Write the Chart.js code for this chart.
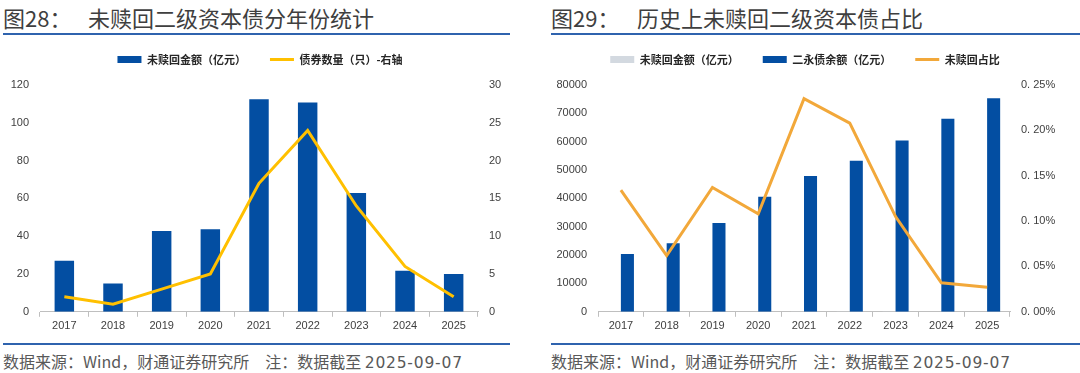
<!DOCTYPE html>
<html>
<head>
<meta charset="utf-8">
<script src="https://cdn.jsdelivr.net/npm/chart.js@4"></script>
<style>
  body { margin: 0; width: 1080px; height: 373px; background: #fff; position: relative; overflow: hidden; font-family: "Noto Sans CJK SC", sans-serif; }
  .title { position: absolute; top: 3px; font-size: 22px; line-height: 28px; color: #3f3f3f; white-space: nowrap; }
  .rule { position: absolute; height: 2px; background: #2f63ae; }
  .source { position: absolute; top: 350px; font-size: 16px; line-height: 22px; color: #595959; white-space: nowrap; }
  .source .date { font-family: "DejaVu Sans", sans-serif; font-size: 15.5px; letter-spacing: 0.8px; }
  .box { position: absolute; }
</style>
</head>
<body>
<div class="title" style="left:3px">图28：</div>
<div class="title" style="left:88px">未赎回二级资本债分年份统计</div>
<div class="title" style="left:551px">图29：</div>
<div class="title" style="left:637px">历史上未赎回二级资本债占比</div>
<div class="rule" style="left:3px; width:507px; top:33px"></div>
<div class="rule" style="left:551px; width:529px; top:33px"></div>
<div class="box" style="left:0; top:30px; width:520px; height:310px"><canvas id="leftChart"></canvas></div>
<div class="box" style="left:550px; top:30px; width:510px; height:310px"><canvas id="rightChart"></canvas></div>
<div class="rule" style="left:3px; width:507px; top:343px"></div>
<div class="rule" style="left:551px; width:529px; top:343px"></div>
<div class="source" style="left:3px">数据来源：Wind，财通证券研究所　注：数据截至 <span class="date">2025-09-07</span></div>
<div class="source" style="left:551px">数据来源：Wind，财通证券研究所　注：数据截至 <span class="date">2025-09-07</span></div>

<script>
// data
const years = ["2017", "2018", "2019", "2020", "2021", "2022", "2023", "2024", "2025"];
const unredeemedAmount = [27, 15, 42.7, 43.7, 112.5, 110.8, 62.8, 21.7, 20]; // 亿元
const bondCount = [2, 1, 3, 5, 17, 24, 14, 6, 2]; // 只
const perpetualBalance = [20400, 24200, 31300, 40600, 47900, 53300, 60400, 68100, 75300]; // 亿元
const unredeemedRatio = [0.134, 0.062, 0.137, 0.108, 0.235, 0.208, 0.105, 0.032, 0.027]; // %

const leftTicks = { min: 0, max: 120, step: 20 };
const leftRightTicks = { min: 0, max: 30, step: 5 };
const rightTicks = { min: 0, max: 80000, step: 10000 };
const rightRightTicks = { min: 0, max: 0.25, step: 0.05 };

const BLUE = "#034ea2";
const YELLOW = "#ffc000";
const ORANGE = "#f2a83a";
const GREY = "#d3d9e0";

Chart.defaults.font.family = "'Liberation Sans', Arial, sans-serif";
Chart.defaults.font.size = 11;
Chart.defaults.color = "#404040";
Chart.defaults.animation = false;

// a bit more room between the legend and the plot
const legendGap = {
  id: "legendGap",
  afterInit(chart) {
    const lg = chart.legend;
    const fit = lg.fit;
    lg.fit = function () {
      fit.apply(this, arguments);
      this.height += 10;
    };
  },
};

const legendOpts = {
  position: "top",
  labels: {
    usePointStyle: true,
    pointStyleWidth: 24,
    boxHeight: 7,
    padding: 24,
    color: "#262626",
    font: { family: "'Noto Sans CJK SC', sans-serif", size: 11, weight: "bold" },
    sort: (a, b) => a.datasetIndex - b.datasetIndex,
  },
};

const xAxis = {
  grid: { display: true, drawOnChartArea: false, drawTicks: true, tickLength: 5, color: "#bfbfbf", offset: true },
  border: { display: true, color: "#bfbfbf" },
  ticks: { padding: 3 },
};

const fixWidth = (w) => (scale) => { scale.width = w; };

// left chart
new Chart(document.getElementById("leftChart"), {
  plugins: [legendGap],
  data: {
    labels: years,
    datasets: [
      {
        type: "bar",
        label: "未赎回金额（亿元）",
        data: unredeemedAmount,
        yAxisID: "y",
        backgroundColor: BLUE,
        pointStyle: "rect",
        categoryPercentage: 0.4,
        barPercentage: 1,
        order: 1,
      },
      {
        type: "line",
        label: "债券数量（只）-右轴",
        data: bondCount,
        yAxisID: "y1",
        borderColor: YELLOW,
        backgroundColor: YELLOW,
        borderWidth: 3,
        pointRadius: 0,
        pointStyle: "line",
        tension: 0,
        order: 0,
      },
    ],
  },
  options: {
    responsive: true,
    maintainAspectRatio: false,
    layout: { padding: { top: 0, bottom: 4 } },
    plugins: {
      legend: legendOpts,
      tooltip: { enabled: false },
    },
    scales: {
      x: xAxis,
      y: {
        position: "left",
        min: leftTicks.min, max: leftTicks.max,
        ticks: { stepSize: leftTicks.step },
        grid: { display: false },
        border: { display: false },
        afterFit: fixWidth(40),
      },
      y1: {
        position: "right",
        min: leftRightTicks.min, max: leftRightTicks.max,
        ticks: { stepSize: leftRightTicks.step },
        grid: { display: false },
        border: { display: false },
        afterFit: fixWidth(42),
      },
    },
  },
});

// right chart
new Chart(document.getElementById("rightChart"), {
  plugins: [legendGap],
  data: {
    labels: years,
    datasets: [
      {
        type: "bar",
        label: "未赎回金额（亿元）",
        data: unredeemedAmount,
        yAxisID: "y",
        backgroundColor: GREY,
        pointStyle: "rect",
        categoryPercentage: 0.57,
        barPercentage: 1,
        order: 1,
      },
      {
        type: "bar",
        label: "二永债余额（亿元）",
        data: perpetualBalance,
        yAxisID: "y",
        backgroundColor: BLUE,
        pointStyle: "rect",
        categoryPercentage: 0.57,
        barPercentage: 1,
        order: 1,
      },
      {
        type: "line",
        label: "未赎回占比",
        data: unredeemedRatio,
        yAxisID: "y1",
        borderColor: ORANGE,
        backgroundColor: ORANGE,
        borderWidth: 3,
        pointRadius: 0,
        pointStyle: "line",
        tension: 0,
        order: 0,
      },
    ],
  },
  options: {
    responsive: true,
    maintainAspectRatio: false,
    layout: { padding: { top: 0, bottom: 4 } },
    plugins: {
      legend: legendOpts,
      tooltip: { enabled: false },
    },
    scales: {
      x: xAxis,
      y: {
        position: "left",
        min: rightTicks.min, max: rightTicks.max,
        ticks: { stepSize: rightTicks.step, callback: (v) => String(v) },
        grid: { display: false },
        border: { display: false },
        afterFit: fixWidth(48),
      },
      y1: {
        position: "right",
        min: rightRightTicks.min, max: rightRightTicks.max,
        ticks: {
          stepSize: rightRightTicks.step,
          callback: (v) => v.toFixed(2).replace(".", ". ") + "%",
        },
        grid: { display: false },
        border: { display: false },
        afterFit: fixWidth(50),
      },
    },
  },
});
</script>
</body>
</html>
